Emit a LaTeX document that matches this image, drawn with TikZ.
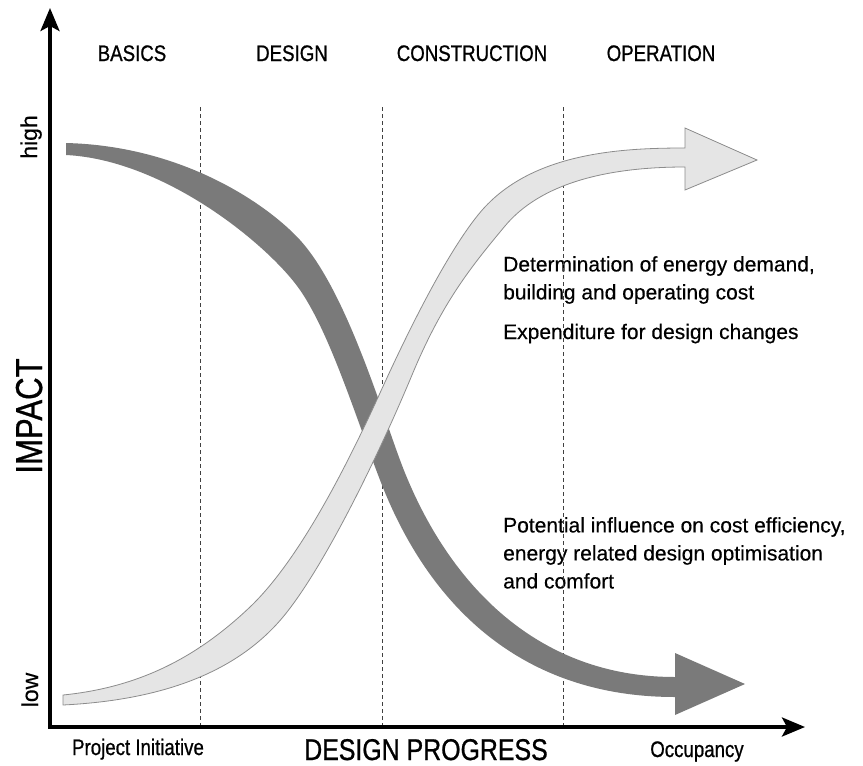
\documentclass[tikz,border=0pt]{standalone}
\usepackage{fontspec}
\setmainfont{Liberation Sans}[FakeBold=0.4]
\newfontfamily\narrowfont{Liberation Sans}[FakeStretch=0.83, FakeBold=0.8]
\usetikzlibrary{positioning,arrows.meta}

\begin{document}
\begin{tikzpicture}[x=1pt, y=-1pt,
		axis/.style={line width=3.5pt, {Stealth[length=23pt,width=19pt,inset=5pt]}-{Stealth[length=23pt,width=19pt,inset=5pt]}},
		phase/.style={black!75, line width=0.9pt, dash pattern=on 4pt off 3pt},
		lightband/.style={fill=black!10, draw=black!45, line width=0.8pt},
		darkband/.style={fill=black!52},
		stage/.style={font=\narrowfont\fontsize{22.5}{27}\selectfont, inner sep=0pt, anchor=base},
		remark/.style={font=\fontsize{21}{28}\selectfont, inner sep=0pt, align=left, anchor=north west}]

		\useasboundingbox (0,0) rectangle (863,766);

		\begin{scope}[every node/.style={stage}]
			\node (basics) at (132,61) {BASICS};
			\node (design) at (292,61) {DESIGN};
			\node (constr) at (472,61) {CONSTRUCTION};
			\node (oper) at (661,61) {OPERATION};

			\node (init) at (138,755) {Project Initiative};
			\node[font=\narrowfont\fontsize{30}{36}\selectfont] (progress) at (426,760) {DESIGN PROGRESS};
			\node (occ) at (697,757) {Occupancy};

			\node[rotate=90, font=\narrowfont\fontsize{37.5}{44}\selectfont] (impact) at (42,416) {IMPACT};
			\node[rotate=90, font=\fontsize{23}{27}\selectfont] (high) at (37,137) {high};
			\node[rotate=90, font=\fontsize{23}{27}\selectfont] (low) at (38,690) {low};
		\end{scope}

		\node[remark] (demand) at (503,256) {Determination of energy demand,\\building and operating cost};
		\node[remark, anchor=base west] (changes) at (503,339) {Expenditure for design changes};
		\node[remark] (influence) at (503,517) {Potential influence on cost efficiency,\\energy related design optimisation\\and comfort};

		\foreach \x in {200,382,563}
			\draw[phase] (\x,107) -- (\x,727);

		% falling band
		\fill[darkband] (66,143) .. controls (186,146) and (270,207) .. (300,240)
			.. controls (345,289.5) and (380,406) .. (400,460)
			.. controls (440,568) and (525,677) .. (675,677)
			-- (675,653) -- (745,684) -- (675,715) -- (675,697)
			.. controls (525,697) and (430,610) .. (380,480)
			.. controls (355,415) and (330,333.5) .. (300,290)
			.. controls (270,246.5) and (166,160) .. (66,155) -- cycle;

		% rising band
		\filldraw[lightband] (63,695) .. controls (143,687) and (200,654.5) .. (250,607)
			.. controls (295,564) and (340,481) .. (380,393)
			.. controls (420,305) and (453,246) .. (478,215)
			.. controls (528,152.5) and (620,148) .. (685,148)
			-- (685,128) -- (757,160) -- (685,190) -- (685,167)
			.. controls (605,167) and (540,184) .. (505,226)
			.. controls (470,268) and (442,303) .. (412,375)
			.. controls (377,459) and (323,569) .. (283,617)
			.. controls (233,677) and (153,700.5) .. (63,705) -- cycle;

		\coordinate (O) at (50,727);
		\coordinate (ytip) at (50,8);
		\coordinate (xtip) at (805,727);
		\draw[axis] (ytip) -- (O) -- (xtip);
\end{tikzpicture}
\end{document}
